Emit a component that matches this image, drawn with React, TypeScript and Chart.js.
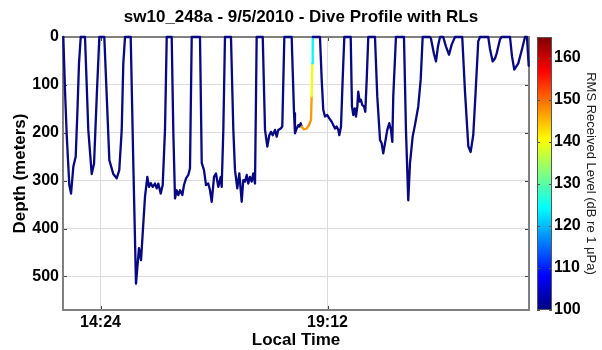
import React, { useEffect, useRef } from "react";
import { Chart, registerables } from "chart.js";

Chart.register(...registerables);

// Time of each sample, minutes after midnight (local time)
const timeMin = [
  816.8, 819.0, 821.1, 824.4, 826.6, 829.5, 832.5, 834.6, 836.7, 838.9, 844.3, 848.5, 852.8, 855.8, 859.2, 862.5,
  868.8, 871.9, 875.2, 880.2, 884.5, 887.8, 890.9, 892.9, 895.1, 902.3, 905.6, 909.0, 912.8, 915.4, 920.4, 923.4,
  925.5, 927.7, 930.2, 933.1, 935.3, 937.3, 940.4, 942.9, 945.8, 948.0, 954.3, 956.3, 958.5, 960.7, 962.7, 964.8,
  967.8, 969.9, 972.5, 975.4, 977.5, 979.7, 990.2, 992.4, 995.3, 997.8, 1000.7, 1002.9, 1005.1, 1008.0, 1010.5,
  1013.4, 1016.5, 1017.7, 1019.8, 1021.9, 1029.5, 1032.5, 1034.6, 1037.5, 1040.1, 1043.1, 1045.1, 1047.3, 1049.5,
  1051.5, 1053.6, 1055.8, 1057.8, 1060.0, 1062.1, 1069.8, 1072.7, 1075.6, 1078.1, 1080.3, 1082.4, 1085.4, 1087.5,
  1089.5, 1092.6, 1094.6, 1097.2, 1106.5, 1109.5, 1110.7, 1112.9, 1114.9, 1116.2, 1118.0, 1119.2, 1122.1, 1125.6,
  1128.5, 1131.0, 1131.9, 1132.7, 1133.2, 1142.4, 1144.6, 1146.6, 1148.8, 1151.7, 1154.2, 1157.3, 1159.3, 1161.5,
  1163.6, 1165.7, 1166.9, 1169.1, 1171.2, 1173.3, 1181.4, 1183.0, 1184.7, 1186.5, 1188.1, 1189.8, 1191.0, 1192.8,
  1194.4, 1196.1, 1198.3, 1199.9, 1201.7, 1203.7, 1212.2, 1215.1, 1218.6, 1220.7, 1222.7, 1224.9, 1227.8, 1230.3,
  1232.5, 1234.2, 1235.4, 1238.8, 1249.0, 1251.5, 1254.4, 1256.6, 1260.0, 1262.9, 1267.1, 1270.2, 1272.7, 1282.0,
  1283.2, 1287.0, 1289.6, 1292.1, 1294.7, 1298.8, 1302.3, 1306.1, 1309.5, 1313.7, 1322.9, 1326.4, 1330.6, 1333.6,
  1336.9, 1339.9, 1343.2, 1345.4, 1355.9, 1358.1, 1361.5, 1364.4, 1366.6, 1370.8, 1372.9, 1383.5, 1386.0, 1388.9,
  1394.0, 1399.1, 1402.5, 1405.0, 1407.2,
];

// Depth in meters for each sample
const depthM = [
  0, 114, 204, 309, 327, 271, 250, 159, 55, 0, 0, 194, 286, 264, 124, 0,
  0, 124, 257, 286, 295, 278, 194, 55, 0, 0, 264, 515, 441, 466, 334, 292,
  313, 305, 313, 306, 316, 306, 327, 309, 194, 0, 0, 194, 337, 320, 330, 320,
  330, 309, 295, 288, 274, 0, 0, 263, 278, 309, 306, 320, 344, 292, 285,
  313, 292, 313, 194, 0, 0, 194, 278, 316, 285, 344, 299, 302, 288,
  306, 292, 302, 285, 306, 0, 0, 194, 229, 205, 198, 205, 194, 208,
  194, 191, 187, 0, 0, 159, 201, 191, 184, 187, 180, 187, 193, 191,
  184, 173, 124, 55, 0, 0, 89, 152, 166, 163, 170, 177, 184, 191,
  187, 194, 205, 187, 89, 0, 0, 145, 163, 149, 166, 145, 114, 135,
  131, 142, 145, 156, 89, 0, 0, 124, 215, 222, 243, 222, 194, 180,
  194, 219, 124, 0, 0, 194, 341, 264, 208, 184, 145, 89, 0, 0,
  3, 35, 51, 20, 0, 0, 20, 37, 16, 0, 0, 114, 228, 240,
  204, 114, 9, 0, 0, 25, 51, 45, 34, 5, 0, 0, 40, 68,
  55, 23, 0, 0, 60,
];

// Received level (dB re 1 uPa) for the segments starting at these times
const rlTime = [1119.2, 1122.1, 1125.6, 1128.5, 1131.0, 1131.9, 1132.7];
const rlLevel = [147, 147, 147, 148, 147, 140, 124];

const xTicks = [864, 1152];
const depthTicks = [0, 100, 200, 300, 400, 500];
const rlTicks = [100, 110, 120, 130, 140, 150, 160];

const X_MIN = 816.4;
const X_MAX = 1407.6;
const DEPTH_MAX = 570;
const RL_MIN = 100;
const RL_MAX = 165;

const FONT = "'Liberation Sans', Arial, sans-serif";
const NAVY = "rgb(8,8,130)";

function jet(t: number): string {
  const c = (v: number) => Math.max(0, Math.min(1, v));
  const r = c(1.5 - Math.abs(4 * t - 3));
  const g = c(1.5 - Math.abs(4 * t - 2));
  const b = c(1.5 - Math.abs(4 * t - 1));
  return `rgb(${Math.round(r * 255)},${Math.round(g * 255)},${Math.round(b * 255)})`;
}

function fmtTime(v: number): string {
  const h = Math.floor(v / 60);
  const m = Math.round(v - h * 60);
  return `${h}:${String(m).padStart(2, "0")}`;
}

const framePlugin = {
  id: "frame",
  beforeDatasetsDraw(chart: any) {
    const { ctx, chartArea: a } = chart;
    ctx.save();
    ctx.strokeStyle = "#444";
    ctx.lineWidth = 1;
    const ys = chart.scales.y;
    for (const v of depthTicks) {
      const py = Math.round(ys.getPixelForValue(v)) + 0.5;
      ctx.beginPath();
      ctx.moveTo(a.left, py);
      ctx.lineTo(a.left + 4, py);
      ctx.moveTo(a.right - 4, py);
      ctx.lineTo(a.right, py);
      ctx.stroke();
    }
    const xs = chart.scales.x;
    for (const v of xTicks) {
      const px = Math.round(xs.getPixelForValue(v)) + 0.5;
      ctx.beginPath();
      ctx.moveTo(px, a.bottom);
      ctx.lineTo(px, a.bottom - 4);
      ctx.moveTo(px, a.top);
      ctx.lineTo(px, a.top + 4);
      ctx.stroke();
    }
    ctx.strokeStyle = "#808080";
    ctx.lineWidth = 2;
    ctx.strokeRect(a.left, a.top, a.right - a.left, a.bottom - a.top);
    ctx.restore();
  },
  afterDraw(chart: any) {
    const { ctx, chartArea: a } = chart;
    const r = chart.scales.rl;
    const x0 = a.right + 8;
    const w = 15;
    const top = r.getPixelForValue(RL_MAX);
    const bottom = r.getPixelForValue(RL_MIN);
    ctx.save();
    const grad = ctx.createLinearGradient(0, bottom, 0, top);
    for (let i = 0; i <= 64; i++) {
      grad.addColorStop(i / 64, jet(i / 64));
    }
    ctx.fillStyle = grad;
    ctx.fillRect(x0, top, w, bottom - top);
    ctx.strokeStyle = "#555";
    ctx.lineWidth = 1;
    ctx.strokeRect(x0 + 0.5, top + 0.5, w - 1, bottom - top - 1);
    for (const v of rlTicks) {
      const py = Math.round(r.getPixelForValue(v)) + 0.5;
      ctx.beginPath();
      ctx.moveTo(x0, py);
      ctx.lineTo(x0 + 3, py);
      ctx.moveTo(x0 + w - 3, py);
      ctx.lineTo(x0 + w, py);
      ctx.stroke();
    }
    ctx.restore();
  },
};

export default function App() {
  const canvasRef = useRef<HTMLCanvasElement | null>(null);

  useEffect(() => {
    if (!canvasRef.current) return;
    const data = timeMin.map((t, i) => ({ x: t, y: depthM[i] }));
    const tickFont = { family: FONT, size: 16, weight: "bold" as const };
    const chart = new Chart(canvasRef.current, {
      type: "line",
      data: {
        datasets: [
          {
            data,
            borderColor: NAVY,
            borderWidth: 2.3,
            borderJoinStyle: "round",
            borderCapStyle: "round",
            pointRadius: 0,
            tension: 0,
            fill: false,
            clip: 4,
            xAxisID: "x",
            yAxisID: "y",
            segment: {
              borderColor: (ctx: any) => {
                const i = rlTime.indexOf(ctx.p0.parsed.x);
                return i >= 0 ? jet((rlLevel[i] - RL_MIN) / (RL_MAX - RL_MIN)) : undefined;
              },
            },
          } as any,
        ],
      },
      options: {
        animation: false,
        responsive: false,
        devicePixelRatio: 1,
        layout: { padding: 0 },
        plugins: {
          legend: { display: false },
          tooltip: { enabled: false },
          title: {
            display: true,
            text: "sw10_248a - 9/5/2010 - Dive Profile with RLs",
            font: { family: FONT, size: 17, weight: "bold" },
            color: "#000",
            padding: { top: 7, bottom: 9.6 },
          },
        },
        scales: {
          x: {
            type: "linear",
            min: X_MIN,
            max: X_MAX,
            afterBuildTicks: (s: any) => {
              s.ticks = xTicks.map((v) => ({ value: v }));
            },
            afterFit: (s: any) => {
              s.height = 40;
            },
            ticks: {
              callback: (v: any) => fmtTime(Number(v)),
              font: tickFont,
              color: "#000",
              padding: 3,
              maxRotation: 0,
              autoSkip: false,
            },
            grid: { color: "#dcdcdc", drawTicks: false, lineWidth: 1 },
            border: { display: false },
            title: {
              display: true,
              text: "Local Time",
              font: { family: FONT, size: 17, weight: "bold" },
              color: "#000",
              padding: { top: 0, bottom: -1 },
            },
          },
          y: {
            type: "linear",
            reverse: true,
            min: 0,
            max: DEPTH_MAX,
            afterBuildTicks: (s: any) => {
              s.ticks = depthTicks.map((v) => ({ value: v }));
            },
            afterFit: (s: any) => {
              s.width = 63;
            },
            ticks: { font: tickFont, color: "#000", padding: 4 },
            grid: { color: "#dcdcdc", drawTicks: false, lineWidth: 1 },
            border: { display: false },
            title: {
              display: true,
              text: "Depth (meters)",
              font: { family: FONT, size: 17, weight: "bold" },
              color: "#000",
              padding: { top: 10, bottom: 0 },
            },
          },
          rl: {
            type: "linear",
            position: "right",
            min: RL_MIN,
            max: RL_MAX,
            afterBuildTicks: (s: any) => {
              s.ticks = rlTicks.map((v) => ({ value: v }));
            },
            afterFit: (s: any) => {
              s.width = 73;
            },
            ticks: { font: tickFont, color: "#000", padding: 25 },
            grid: { display: false, drawTicks: false },
            border: { display: false },
            title: {
              display: true,
              text: "RMS Received Level (dB re 1 μPa)",
              font: { family: FONT, size: 13 },
              color: "#222",
              padding: { top: 4, bottom: 0 },
            },
          },
        },
      } as any,
      plugins: [framePlugin],
    });
    return () => chart.destroy();
  }, []);

  return (
    <div style={{ position: "absolute", left: 0, top: 0, width: 602, height: 350, background: "#fff" }}>
      <canvas ref={canvasRef} width={602} height={350} />
    </div>
  );
}
